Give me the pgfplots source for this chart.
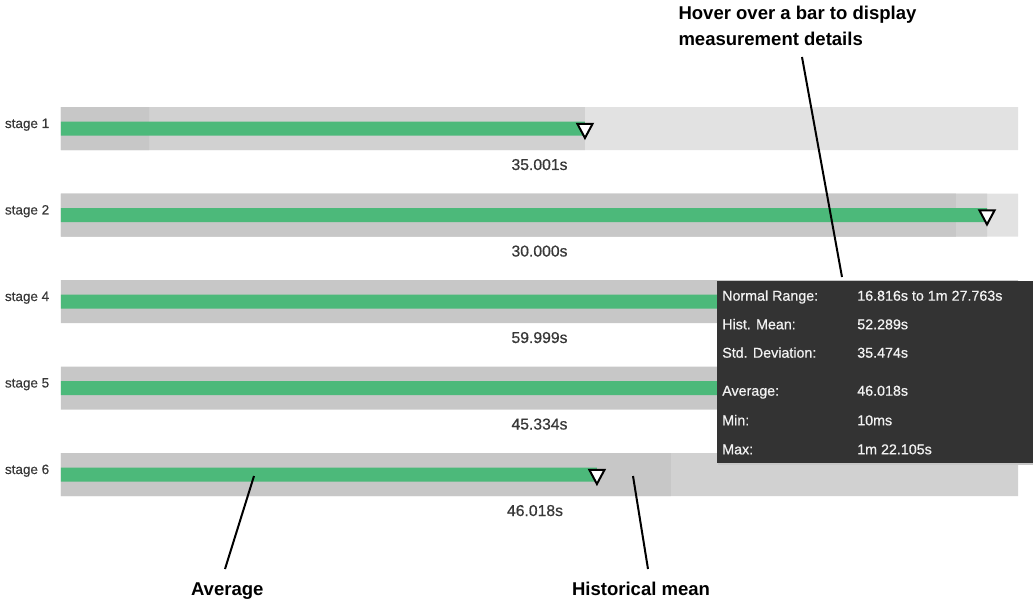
\documentclass[border=0pt]{standalone}
\usepackage{pgfplots}
\pgfplotsset{compat=1.18}
\usepackage{fontspec}
\setmainfont{Liberation Sans}
\newfontfamily\medfont[FakeBold=0.6]{Liberation Sans}
\newfontfamily\semifont[FakeBold=0.35]{Liberation Sans}
\definecolor{bglight}{HTML}{E2E2E2}
\definecolor{bgmid}{HTML}{D1D1D1}
\definecolor{bgdark}{HTML}{C7C7C7}
\definecolor{barGreen}{HTML}{4CB97A}
\definecolor{tip}{HTML}{333333}
\definecolor{lbl}{HTML}{383838}
\newcommand\fstage{\semifont\fontsize{10.1pt}{12pt}\selectfont}
\newcommand\fval{\medfont\fontsize{11.8pt}{14pt}\selectfont}
\newcommand\ftip{\medfont\fontsize{10.7pt}{13pt}\selectfont}
\newcommand\fann{\fontsize{13.9pt}{16pt}\selectfont\bfseries}
\begin{document}
\begin{tikzpicture}
\begin{axis}[
  scale only axis, width=774.75pt, height=450.75pt,
  xmin=-6.374, xmax=101.567, ymin=0, ymax=601, y dir=reverse,
  hide axis, clip=false,
]
\path (axis cs:-6.374,0) rectangle (axis cs:101.567,601);
% light background (full scale)
\addplot[xbar, bar shift=0pt, bar width=43, fill=bglight, draw=none]
  coordinates {(100,128.5) (100,215)};
% medium band (up to average)
\addplot[xbar, bar shift=0pt, bar width=43, fill=bgmid, draw=none]
  coordinates {(54.75,128.5) (96.76,215) (100,474.5)};
% dark band (up to historical mean)
\addplot[xbar, bar shift=0pt, bar width=43, fill=bgdark, draw=none]
  coordinates {(9.2,128.5) (93.52,215) (100,301.5) (100,388) (63.74,474.5)};
% average bars
\addplot[xbar, bar shift=0pt, bar width=14, fill=barGreen, draw=none]
  coordinates {(54.75,128.5) (96.76,215) (80,301.5) (80,388) (56.0,474.5)};
% average markers
\addplot[only marks, mark=triangle*, mark size=6.6pt,
  mark options={rotate=180, yscale=1.08, fill=white, draw=black, line width=1.5pt}]
  coordinates {(54.75,128.5) (96.76,215) (80,301.5) (80,388) (56.0,474.5)};
\coordinate (TL) at (axis cs:-6.374,0);
\end{axis}
\begin{scope}[shift={(TL)}, x=0.75pt, y=-0.75pt, every node/.style={inner sep=0pt, outer sep=0pt}]
  % stage labels
  \node[anchor=base west, text=lbl] at (5,128) {\fstage stage 1};
  \node[anchor=base west, text=lbl] at (5,214.5) {\fstage stage 2};
  \node[anchor=base west, text=lbl] at (5,301) {\fstage stage 4};
  \node[anchor=base west, text=lbl] at (5,387.5) {\fstage stage 5};
  \node[anchor=base west, text=lbl] at (5,474) {\fstage stage 6};
  % value labels
  \node[anchor=base, text=lbl] at (539.5,170) {\fval 35.001s};
  \node[anchor=base, text=lbl] at (539.5,256.5) {\fval 30.000s};
  \node[anchor=base, text=lbl] at (539.5,343) {\fval 59.999s};
  \node[anchor=base, text=lbl] at (539.5,429.5) {\fval 45.334s};
  \node[anchor=base, text=lbl] at (535,516) {\fval 46.018s};
  % pointer lines
  \draw[line width=1.5pt] (802,57) -- (842,277);
  \draw[line width=1.5pt] (225,569) -- (254,476);
  \draw[line width=1.5pt] (648,569) -- (633,476);
  % tooltip
  \fill[black!22] (718,282) rectangle (1033,465);
  \fill[tip] (717,281) rectangle (1033,463);
  \begin{scope}[every node/.style={inner sep=0pt, anchor=base west, text=white!95!black}]
    \node at (722,300.7) {\ftip Normal Range:};
    \node at (857,300.7) {\ftip 16.816s to 1m 27.763s};
    \node at (722,329.3) {\ftip Hist. Mean:};
    \node at (857,329.3) {\ftip 52.289s};
    \node at (722,357.7) {\ftip Std. Deviation:};
    \node at (857,357.7) {\ftip 35.474s};
    \node at (722,395.7) {\ftip Average:};
    \node at (857,395.7) {\ftip 46.018s};
    \node at (722,425.3) {\ftip Min:};
    \node at (857,425.3) {\ftip 10ms};
    \node at (722,454.3) {\ftip Max:};
    \node at (857,454.3) {\ftip 1m 22.105s};
  \end{scope}
  % annotations
  \node[anchor=base west] at (678.5,19.3) {\fann Hover over a bar to display};
  \node[anchor=base west] at (678.5,45.7) {\fann measurement details};
  \node[anchor=base west] at (191,595.5) {\fann Average};
  \node[anchor=base west] at (572,595.5) {\fann Historical mean};
\end{scope}
\end{tikzpicture}
\end{document}
